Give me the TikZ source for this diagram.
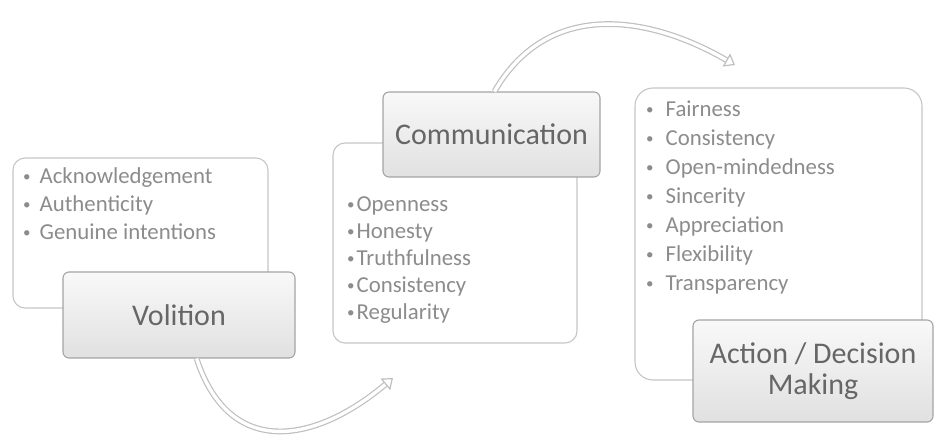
\documentclass[tikz,border=0pt]{standalone}
\usepackage{fontspec}
\setmainfont{Carlito}
\usetikzlibrary{
  arrows.meta,
  positioning
}

\definecolor{boxline}{HTML}{C6C6C6}
\definecolor{titleline}{HTML}{A4A4A4}
\definecolor{itemgray}{HTML}{8C8C8C}
\definecolor{titlegray}{HTML}{666666}

\newcommand{\itemdot}{{\fontsize{15}{15}\selectfont\raisebox{1.8pt}{\textbullet}}}

\tikzset{
    listbox/.style={draw=boxline, line width=1.1pt, fill=white,
        rounded corners=12pt, inner sep=0pt},
    titlebox/.style={draw=titleline, line width=1.1pt, rounded corners=6pt,
        top color=gray!5, bottom color=gray!24, text=titlegray,
        font=\fontsize{30}{31}\selectfont, align=center, inner sep=0pt},
    item/.style={anchor=base west, inner sep=0pt, text=itemgray,
        font=\fontsize{22.8}{27}\selectfont},
    flow/.style={draw=gray!50, line width=1.2pt, double=white,
        double distance=3.4pt, -{Triangle[open,length=10pt,width=15pt]}},
}

\begin{document}
\begin{tikzpicture}[x=1pt,y=-1pt]
\useasboundingbox (0,0) rectangle (934,439);

% The list boxes, with their bullet items
\node[listbox, minimum width=255pt, minimum height=150pt] (vlist) at (140.5,233) {};
\node[listbox, minimum width=244pt, minimum height=200pt] (clist) at (455,243) {};
\node[listbox, rounded corners=18pt, minimum width=287pt, minimum height=292pt] (alist) at (778.5,234) {};

\foreach \t [count=\i] in {Acknowledgement, Authenticity, Genuine intentions}
    \node[item] (vitem\i) at ([shift={(27,{26+28*(\i-1)})}]vlist.north west)
        {\llap{\itemdot\hspace{9pt}}\t};

\foreach \t [count=\i] in {Openness, Honesty, Truthfulness, Consistency, Regularity}
    \node[item] (citem\i) at ([shift={(24,{69+27*(\i-1)})}]clist.north west)
        {\llap{\itemdot\hspace{2pt}}\t};

\foreach \t [count=\i] in {Fairness, Consistency, Open-mindedness, Sincerity,
        Appreciation, Flexibility, Transparency}
    \node[item] (aitem\i) at ([shift={(31,{29+29*(\i-1)})}]alist.north west)
        {\llap{\itemdot\hspace{12pt}}\t};

% Title boxes sit on top of the lists
\node[titlebox, minimum width=232pt, minimum height=86pt] (vol) at (179,315) {Volition};
\node[titlebox, minimum width=217pt, minimum height=85pt] (comm) at (491.5,134.5) {Communication};
\node[titlebox, minimum width=240pt, minimum height=102pt] (act) at (813,371) {Action / Decision\\Making};

% Free ends of the two bent arrows
\coordinate (toComm) at (393,378);
\coordinate (toAct) at (735,65);

\draw[flow] (vol.-68) to[out=-72, in=-140, looseness=1.35] (toComm);
\draw[flow] ([xshift=3pt]comm.north) to[out=60, in=150, looseness=1.1] (toAct);

\end{tikzpicture}
\end{document}
